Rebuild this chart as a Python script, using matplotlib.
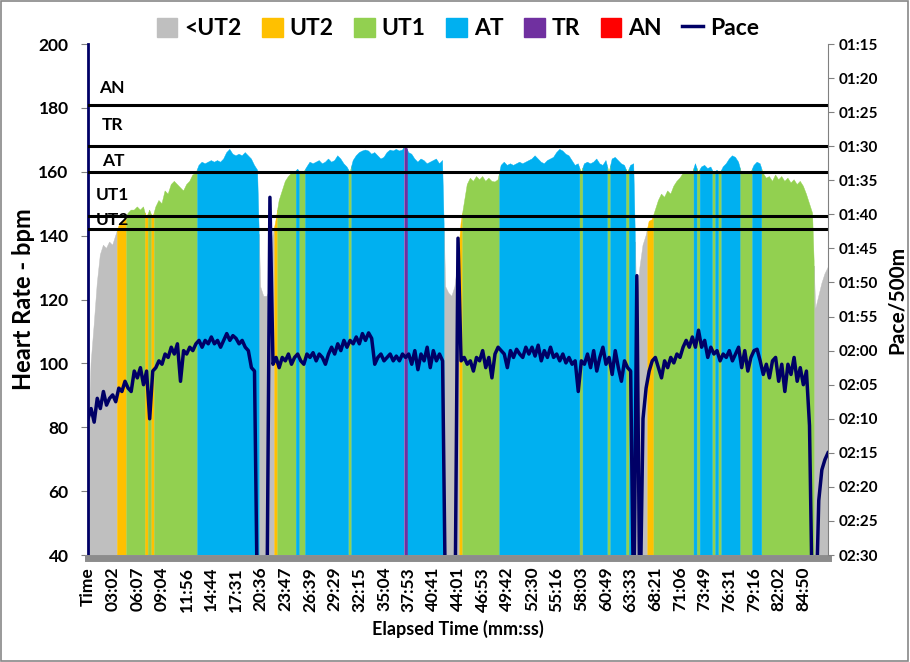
import matplotlib
matplotlib.use('Agg')
import numpy as np
import matplotlib.pyplot as plt
from matplotlib.patches import Patch, Rectangle
from matplotlib.lines import Line2D

plt.rcParams['font.family'] = ['Lato', 'DejaVu Sans']
plt.rcParams['font.weight'] = 'bold'

# heart rate per sample (bpm)
hr = [70, 100, 112, 125, 134, 137, 136, 138, 137, 140,
      143, 144, 145, 147, 148, 148, 149, 148, 149, 145.5,
      148, 145.5, 149, 151, 150, 154, 153, 156, 157, 156,
      155, 154, 156, 157, 159, 159.5, 162, 163, 162.5, 163,
      163.5, 163, 163.5, 163, 164, 166, 167, 165.5, 165, 165.5,
      165, 166, 165, 164, 162, 160.5, 124, 121, 121, 123,
      140, 145, 151, 154, 157, 158.5, 159.5, 159.8, 160.8, 159.6,
      159.9, 161.5, 163, 162.5, 163, 163.5, 162.5, 163, 164, 163,
      163.5, 165, 164, 162.5, 161.5, 159.8, 163.5, 165, 166, 166.5,
      166.8, 166.5, 165.5, 166, 165, 164, 164.5, 166, 166.8, 166.5,
      167, 166.5, 166.8, 168.2, 166, 165.5, 164, 163, 164, 163.5,
      162.5, 163, 163.5, 164, 162.5, 163.5, 124, 122, 121, 124,
      132, 144, 150, 156, 158, 157, 158.5, 157.5, 158.5, 157,
      158, 157, 156.8, 157.5, 162, 163, 162, 162.5, 162, 162.5,
      163, 162.5, 163, 163.5, 164, 165, 164, 163, 162.5, 163.5,
      164, 164.5, 166, 167, 166.5, 165.5, 165, 163.5, 162, 162.5,
      159.8, 162.5, 163, 162.5, 163, 164, 162.5, 162, 163.5, 159.8,
      164, 164.5, 163.5, 162.5, 162, 159.7, 162, 162.5, 118, 130,
      137, 140, 144.5, 145, 148, 151, 153, 152, 154, 153,
      155.5, 157, 158, 159.5, 159.8, 159.8, 159.5, 162.5, 159.8, 161.5,
      162, 161, 161.5, 159.5, 160.5, 159.5, 161.5, 162.5, 164, 165,
      164.5, 163, 159.5, 159.8, 159.5, 159.8, 162, 163, 162.5, 159.5,
      158, 158.5, 157, 159, 157.5, 158.5, 157, 158, 156.5, 157.5,
      156, 157, 155.5, 153, 150, 147, 117, 121, 125, 128,
      130]

# pace per sample (seconds per 500m)
pace = [130, 128.5, 130.5, 127, 128.5, 126, 128, 127, 126.5, 127.5,
        125.5, 126, 124.5, 125.5, 126, 123, 124, 122.5, 125, 123,
        130, 123, 122.5, 121.5, 122, 120.5, 121, 119.5, 120.5, 119,
        124.5, 120, 120.5, 119.5, 120, 119, 118.5, 119.5, 118.5, 119,
        118, 119, 118.5, 119.5, 118.5, 117.5, 118.5, 117.8, 118.2, 119,
        118.5, 119.5, 120, 122.5, 123, 160, 160, 160, 160, 97.5,
        122, 121, 122.5, 121, 121.5, 120.5, 122, 121, 120.5, 121.5,
        122, 120.5, 121, 120.3, 121.5, 120.5, 121, 122, 120.5, 119.5,
        120.5, 119, 120, 118.5, 119.5, 118.5, 119, 118, 119, 117.5,
        118.5, 117.4, 118.2, 122, 121, 120.5, 121.5, 121, 120.5, 121.5,
        120.8, 121.5, 120.5, 121, 120.5, 122, 120, 122.8, 120.5, 121.5,
        119.5, 122.5, 120, 121.5, 120.5, 121.5, 160, 160, 160, 160,
        103.5, 121.5, 121, 122, 121.5, 123, 121, 121.5, 120, 122.5,
        121, 124, 120.5, 119.5, 120, 120.5, 122.5, 120, 121, 119.8,
        120.5, 121, 119.5, 120.5, 119.5, 120.8, 119.2, 121.5, 120, 121,
        119.5, 121, 120.5, 121.5, 120.5, 121.8, 121, 122, 121.5, 126,
        121.5, 122, 120.5, 122.5, 120, 123, 121, 119.5, 122, 121,
        123.5, 120, 122.5, 124.5, 121.5, 122.5, 123, 160, 109, 160,
        130, 125.5, 123, 121.5, 121, 122.5, 124, 121.5, 122.5, 121,
        121.8, 120.5, 121, 119.5, 118.5, 119.5, 118, 119.5, 117, 119.5,
        118.5, 121, 119.5, 120.5, 120, 121.5, 120.5, 121, 120, 121.5,
        120.5, 119.5, 122.5, 120, 123, 121, 120, 119.8, 121.5, 123.5,
        122, 124, 121.5, 121, 124.5, 122, 126, 122, 123.5, 121,
        124.5, 122.5, 125, 123, 131, 160, 160, 142, 137.5, 136,
        135]

time_labels = ['Time', '03:02', '06:07', '09:04', '11:56', '14:44', '17:31',
               '20:36', '23:47', '26:39', '29:29', '32:15', '35:04', '37:53',
               '40:41', '44:01', '46:53', '49:42', '52:30', '55:16', '58:03',
               '60:49', '63:33', '68:21', '71:06', '73:49', '76:31', '79:16',
               '82:02', '84:50']
label_step = 8

zone_names = ['<UT2', 'UT2', 'UT1', 'AT', 'TR', 'AN']
zone_colors = ['#bfbfbf', '#ffc000', '#92d050', '#00b0f0', '#7030a0', '#ff0000']
zone_bounds = [142, 146, 160, 168, 181]

hr = np.array(hr, dtype=float)
pace = np.array(pace, dtype=float)
x = np.arange(len(hr))
zone = np.digitize(hr, zone_bounds)

fig = plt.figure(figsize=(9.1, 6.62), dpi=100)
ax = fig.add_axes([0.0967, 0.1616, 0.8132, 0.7719])

# area under the HR trace, coloured by the zone of the nearest sample
xf = np.arange(-0.5, len(hr) - 0.5 + 1e-9, 0.05)
hr_f = np.interp(xf, x, hr)
zone_f = zone[np.clip(np.round(xf).astype(int), 0, len(hr) - 1)]
for k, c in enumerate(zone_colors):
    mask = zone_f == k
    if not mask.any():
        continue
    ax.fill_between(xf, 40, hr_f, where=mask, color=c, linewidth=0.3,
                    edgecolor=c)

for b in zone_bounds:
    ax.axhline(b, color='black', lw=2.2, zorder=3)

# zone names next to the threshold lines
label_pos = {'AN': (3.6, 186.2), 'TR': (4.5, 174.6), 'AT': (4.5, 163.4),
             'UT1': (2.6, 152.7), 'UT2': (2.6, 144.9)}
for name, (lx, ly) in label_pos.items():
    ax.text(lx, ly, name, fontsize=12.5, fontweight='bold', va='center',
            ha='left', zorder=4)

ax.set_xlim(0, len(hr) - 1)
ax.set_ylim(40, 200)
ax.set_yticks(np.arange(40, 201, 20))
ax.set_xticks(np.arange(len(time_labels)) * label_step)
ax.set_xticklabels(time_labels)
ax.tick_params(axis='x', length=0, pad=6, labelrotation=90, labelsize=12.5)
ax.tick_params(axis='y', labelsize=12.5, color='#808080', length=5, pad=9)
ax.spines['top'].set_visible(False)
ax.spines['right'].set_visible(False)
ax.spines['left'].set_color('#000066')
ax.spines['left'].set_linewidth(2)
ax.spines['bottom'].set_color('#8c8c8c')
ax.spines['bottom'].set_linewidth(5)
ax.spines['bottom'].set_position(('outward', 2.5))
ax.set_ylabel('Heart Rate - bpm', fontsize=17, fontweight='bold')
ax.yaxis.set_label_coords(-0.071, 0.5)
ax.set_xlabel('Elapsed Time (mm:ss)', fontsize=13, fontweight='bold', labelpad=6)

ax2 = ax.twinx()
ax2.plot(x, pace, color='#000066', lw=2.5, zorder=5)
ax2.set_ylim(150, 75)
pace_ticks = np.arange(75, 151, 5)
ax2.set_yticks(pace_ticks)
ax2.set_yticklabels(['%02d:%02d' % (t // 60, t % 60) for t in pace_ticks])
ax2.tick_params(axis='y', color='#808080', length=4, labelsize=11)
for s in ['top', 'left', 'bottom']:
    ax2.spines[s].set_visible(False)
ax2.spines['right'].set_color('#808080')
ax2.set_ylabel('Pace/500m', fontsize=15, fontweight='bold', labelpad=6)

handles = [Patch(color=c, label=n) for n, c in zip(zone_names, zone_colors)]
handles.append(Line2D([], [], color='#000066', lw=2.5, label='Pace'))
fig.legend(handles=handles, loc='center', bbox_to_anchor=(0.503, 0.957),
           ncol=7, frameon=False, prop={'size': 16.5, 'weight': 'bold'},
           handlelength=0.9, handleheight=0.9, handletextpad=0.3,
           columnspacing=0.9)

fig.patches.append(Rectangle((0.001, 0.001), 0.997, 0.997,
                             transform=fig.transFigure, fill=False,
                             edgecolor='#888888', lw=1.2))

fig.savefig('out.png', dpi=100)
